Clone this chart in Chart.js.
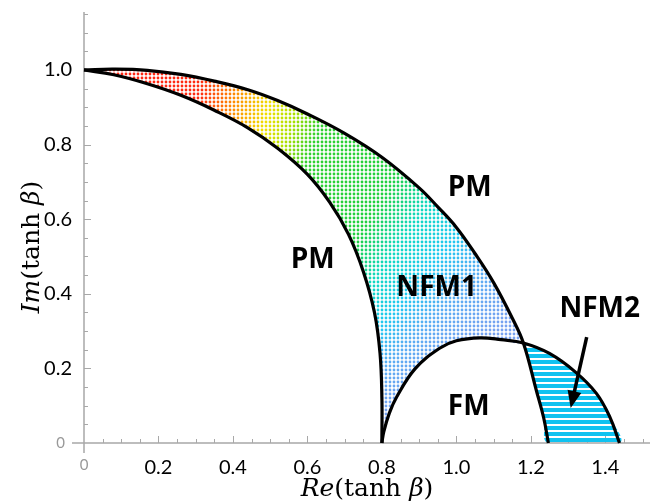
<!DOCTYPE html>
<html>
<head>
<meta charset="utf-8">
<script src="https://cdn.jsdelivr.net/npm/chart.js@4.4.1/dist/chart.umd.min.js"></script>
<style>
  html, body { margin: 0; padding: 0; background: #fff; }
  #wrap { width: 653px; height: 503px; }
</style>
</head>
<body>
<div id="wrap"><canvas id="chart"></canvas></div>
<script>
// boundary curves, as (Re, Im) pairs
var outerRe = [0, 0.08, 0.17, 0.26, 0.35, 0.44, 0.52, 0.6, 0.7, 0.8, 0.9, 0.95, 1.0, 1.05, 1.1, 1.15, 1.18, 1.215, 1.235, 1.247];
var outerIm = [1.0, 1.002, 0.999, 0.988, 0.97, 0.947, 0.918, 0.882, 0.83, 0.766, 0.684, 0.633, 0.578, 0.508, 0.43, 0.335, 0.268, 0.14, 0.065, 0.0];

var innerRe = [0, 0.08, 0.17, 0.26, 0.35, 0.44, 0.52, 0.6, 0.66, 0.71, 0.75, 0.78, 0.795, 0.8, 0.8];
var innerIm = [1.0, 0.987, 0.963, 0.932, 0.892, 0.845, 0.79, 0.72, 0.645, 0.56, 0.46, 0.35, 0.24, 0.12, 0.0];

var fmRe = [0.8, 0.805, 0.82, 0.84, 0.89, 0.955, 1.0, 1.063, 1.12, 1.18, 1.25, 1.32, 1.376, 1.412, 1.438];
var fmIm = [0.0, 0.03, 0.08, 0.124, 0.2, 0.254, 0.274, 0.282, 0.277, 0.268, 0.24, 0.19, 0.133, 0.07, 0.0];

// where the outer curve and the FM curve cross
var crossOuter = 16, crossFM = 9;

// ticks
var xTicks = [0.2, 0.4, 0.6, 0.8, 1.0, 1.2, 1.4];
var yTicks = [0.2, 0.4, 0.6, 0.8, 1.0];
var xMax = 1.52, yMax = 1.15;

// region labels [text, Re, Im]
var regionLabels = [
  ['PM', 1.036, 0.684],
  ['PM', 0.614, 0.491],
  ['NFM1', 0.947, 0.416],
  ['FM', 1.033, 0.097],
  ['NFM2', 1.385, 0.359]
];
var arrowFrom = [1.35, 0.284], arrowTo = [1.307, 0.094];

function pts(xs, ys) {
  return xs.map(function (v, i) { return { x: v, y: ys[i] }; });
}
var outer = pts(outerRe, outerIm);
var inner = pts(innerRe, innerIm);
var fm = pts(fmRe, fmIm);

// NFM1: outer curve to the crossing, back along FM, back up the inner curve
var nfm1 = outer.slice(0, crossOuter + 1)
  .concat(fm.slice(0, crossFM).reverse())
  .concat(inner.slice(1, inner.length - 1).reverse());
// NFM2: outer curve from the crossing down to the axis, back up along FM
var nfm2 = outer.slice(crossOuter)
  .concat(fm.slice(crossFM + 1).reverse());

function dotMask(o, w, h, pitch, r) {
  var tile = document.createElement('canvas');
  tile.width = tile.height = pitch;
  var t = tile.getContext('2d');
  t.fillStyle = '#000';
  t.beginPath(); t.arc(pitch / 2, pitch / 2, r, 0, 2 * Math.PI); t.fill();
  o.globalCompositeOperation = 'destination-in';
  o.fillStyle = o.createPattern(tile, 'repeat');
  o.fillRect(0, 0, w, h);
  o.globalCompositeOperation = 'source-over';
}

var cache = {};
function nfm1Fill(c) {
  var chart = c.chart;
  if (!chart.chartArea) return 'rgba(0,0,0,0)';
  if (cache.a) return cache.a;
  var w = chart.width, h = chart.height;
  var off = document.createElement('canvas');
  off.width = w; off.height = h;
  var o = off.getContext('2d');
  var cx = chart.scales.x.getPixelForValue(0.163), cy = chart.scales.y.getPixelForValue(-0.44);
  var g = o.createConicGradient(-110 * Math.PI / 180, cx, cy);
  var stops = [[0, '#ff1e1e'], [26, '#ff2a10'], [30, '#ff8c00'], [34, '#f0e000'], [37, '#a8e000'],
    [40, '#30d030'], [50, '#20d040'], [55, '#10d8c0'], [60, '#20c8f0'], [65, 'rgba(48,152,240,0.8)'],
    [72, 'rgba(48,112,232,0.65)'], [360, 'rgba(48,112,232,0.65)']];
  stops.forEach(function (s) { g.addColorStop(s[0] / 360, s[1]); });
  o.fillStyle = g;
  o.fillRect(0, 0, w, h);
  dotMask(o, w, h, 4, 1.4);
  cache.a = chart.ctx.createPattern(off, 'no-repeat');
  return cache.a;
}
function nfm2Fill(c) {
  var chart = c.chart;
  if (!chart.chartArea) return 'rgba(0,0,0,0)';
  if (cache.b) return cache.b;
  var tile = document.createElement('canvas');
  tile.width = 2; tile.height = 6;
  var t = tile.getContext('2d');
  t.fillStyle = '#10c2f0';
  t.fillRect(0, 0, 2, 4);
  cache.b = chart.ctx.createPattern(tile, 'repeat');
  return cache.b;
}

var curve = { borderColor: '#000', borderWidth: 3.2, pointRadius: 0, fill: false, tension: 0.4, clip: false };

var decor = {
  id: 'decor',
  beforeDatasetsDraw: function (chart) {
    var ctx = chart.ctx, x = chart.scales.x, y = chart.scales.y;
    var x0 = x.getPixelForValue(0), y0 = y.getPixelForValue(0);
    ctx.save();
    ctx.strokeStyle = '#a8a8a8';
    ctx.lineWidth = 1.5;
    ctx.beginPath();
    ctx.moveTo(x0, y0 + 10); ctx.lineTo(x0, y.getPixelForValue(yMax) - 2);
    ctx.moveTo(x0 - 12, y0); ctx.lineTo(x.getPixelForValue(xMax), y0);
    ctx.stroke();
    ctx.lineWidth = 1;
    ctx.beginPath();
    for (var v = 0.05; v < xMax; v += 0.05) {
      var px = Math.round(x.getPixelForValue(v)) + 0.5;
      var major = Math.abs(v / 0.2 - Math.round(v / 0.2)) < 1e-6;
      ctx.moveTo(px, y0); ctx.lineTo(px, y0 - (major ? 7 : 4));
    }
    for (var u = 0.05; u < yMax + 0.001; u += 0.05) {
      var py = Math.round(y.getPixelForValue(u)) + 0.5;
      var maj = Math.abs(u / 0.2 - Math.round(u / 0.2)) < 1e-6;
      ctx.moveTo(x0, py); ctx.lineTo(x0 + (maj ? 7 : 4), py);
    }
    ctx.stroke();
    ctx.restore();
  },
  afterDraw: function (chart) {
    var ctx = chart.ctx, x = chart.scales.x, y = chart.scales.y;
    var x0 = x.getPixelForValue(0), y0 = y.getPixelForValue(0);
    ctx.save();
    // tick labels
    ctx.fillStyle = '#000';
    ctx.font = '20px Lato';
    ctx.textAlign = 'center'; ctx.textBaseline = 'top';
    xTicks.forEach(function (v) { ctx.fillText(v.toFixed(1), x.getPixelForValue(v), 458); });
    ctx.textAlign = 'right'; ctx.textBaseline = 'middle';
    yTicks.forEach(function (v) { ctx.fillText(v.toFixed(1), x0 - 12, y.getPixelForValue(v)); });
    ctx.fillStyle = '#999';
    ctx.font = '15px Lato';
    ctx.fillText('0', x0 - 19, y0);
    ctx.textAlign = 'center'; ctx.textBaseline = 'top';
    ctx.fillText('0', x0, 458);
    // region labels
    ctx.fillStyle = '#000';
    ctx.font = 'bold 28px "Open Sans"';
    ctx.textAlign = 'center'; ctx.textBaseline = 'middle';
    regionLabels.forEach(function (l) { ctx.fillText(l[0], x.getPixelForValue(l[1]), y.getPixelForValue(l[2])); });
    // arrow
    var ax = x.getPixelForValue(arrowFrom[0]), ay = y.getPixelForValue(arrowFrom[1]);
    var bx = x.getPixelForValue(arrowTo[0]), by = y.getPixelForValue(arrowTo[1]);
    var ang = Math.atan2(by - ay, bx - ax), head = 17;
    ctx.strokeStyle = '#000'; ctx.lineWidth = 3.5;
    ctx.beginPath(); ctx.moveTo(ax, ay);
    ctx.lineTo(bx - (head - 2) * Math.cos(ang), by - (head - 2) * Math.sin(ang)); ctx.stroke();
    ctx.beginPath(); ctx.moveTo(bx, by);
    ctx.lineTo(bx - head * Math.cos(ang) + 7 * Math.sin(ang), by - head * Math.sin(ang) - 7 * Math.cos(ang));
    ctx.lineTo(bx - head * Math.cos(ang) - 7 * Math.sin(ang), by - head * Math.sin(ang) + 7 * Math.cos(ang));
    ctx.closePath(); ctx.fill();
    // axis titles
    function title(parts, cxp, cyp, rot) {
      ctx.save();
      ctx.translate(cxp, cyp); ctx.rotate(rot);
      var total = 0;
      parts.forEach(function (p) { ctx.font = p[1] + '25px "DejaVu Serif"'; total += ctx.measureText(p[0]).width; });
      var pos = -total / 2;
      ctx.textAlign = 'left'; ctx.textBaseline = 'alphabetic'; ctx.fillStyle = '#000';
      parts.forEach(function (p) { ctx.font = p[1] + '25px "DejaVu Serif"'; ctx.fillText(p[0], pos, 0); pos += ctx.measureText(p[0]).width; });
      ctx.restore();
    }
    title([['Re', 'italic '], ['(tanh ', ''], ['β', 'italic '], [')', '']], 367, 496, 0);
    title([['Im', 'italic '], ['(tanh ', ''], ['β', 'italic '], [')', '']], 39, 247, -Math.PI / 2);
    ctx.restore();
  }
};

new Chart(document.getElementById('chart').getContext('2d'), {
  type: 'line',
  data: {
    datasets: [
      Object.assign({ data: outer }, curve),
      Object.assign({ data: inner }, curve),
      Object.assign({ data: fm }, curve),
      { data: nfm1, borderWidth: 0, pointRadius: 0, tension: 0.4, fill: 'shape', backgroundColor: nfm1Fill, borderColor: 'rgba(0,0,0,0)' },
      { data: nfm2, borderWidth: 0, pointRadius: 0, tension: 0.4, fill: 'shape', backgroundColor: nfm2Fill, borderColor: 'rgba(0,0,0,0)' }
    ]
  },
  options: {
    responsive: true,
    maintainAspectRatio: false,
    animation: false,
    devicePixelRatio: 1,
    layout: { padding: { top: 14, right: 3 } },
    plugins: { legend: { display: false }, tooltip: { enabled: false } },
    scales: {
      x: {
        type: 'linear', min: 0, max: xMax,
        grid: { display: false }, border: { display: false }, ticks: { display: false },
        afterFit: function (s) { s.height = 60; }
      },
      y: {
        type: 'linear', min: 0, max: yMax,
        grid: { display: false }, border: { display: false }, ticks: { display: false },
        afterFit: function (s) { s.width = 84; }
      }
    }
  },
  plugins: [decor]
});
</script>
</body>
</html>
